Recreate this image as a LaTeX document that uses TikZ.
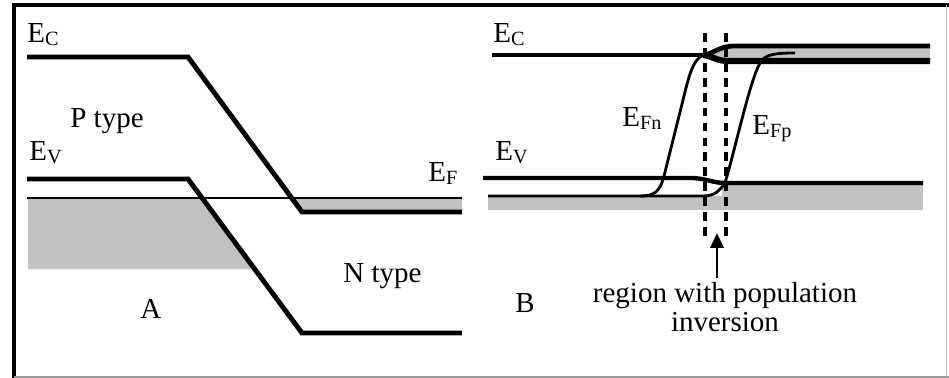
\documentclass[tikz,border=0pt]{standalone}
\usepackage{fontspec}
\setmainfont{Liberation Serif}
\usetikzlibrary{arrows.meta}
\definecolor{BandGray}{HTML}{C2C2C2}
\definecolor{FrameGray}{HTML}{9A9A9A}
\newcommand{\lvl}[1]{E\raisebox{-1.5pt}{\fontsize{11.5}{11.5}\selectfont #1}}

\begin{document}
\begin{tikzpicture}[x=0.02cm, y=-0.02cm,
    band/.style={line width=2.8pt},
    fermi/.style={line width=1.1pt},
    quasi/.style={line width=1.6pt},
    guide/.style={line width=1.8pt, dash pattern=on 5pt off 3.5pt},
    lbl/.style={anchor=base west, inner sep=0pt, font=\fontsize{16.5}{16.5}\selectfont}]
    \useasboundingbox (0,0) rectangle (949,378);
    % frame
    \draw[line width=1.8pt] (14,378) -- (14,5) -- (949,5);
    \draw[FrameGray, line width=0.6pt] (14,377) -- (949,377);
    \draw[FrameGray!60, line width=0.5pt] (946,5) -- (946,377);

    % A: junction at equilibrium
    \fill[BandGray] (28,198) -- (202,198) -- (255,269) -- (28,269) -- cycle;
    \fill[BandGray] (292,198) -- (462,198) -- (462,212) -- (302,212) -- cycle;
    \draw[fermi] (27,198) -- (462,198);
    \draw[band] (27,57) -- (188,57) -- (302,212) -- (462,212);
    \draw[band] (27,179) -- (188,179) -- (302,333) -- (462,333);

    % B: forward bias
    \fill[BandGray] (705,55) -- (733,47) -- (930,47) -- (930,60) -- (727,60) -- cycle;
    \fill[BandGray] (488,196) rectangle (923,210);
    \fill[BandGray] (722,184) rectangle (923,196);
    \draw[line width=2.1pt] (492,55) -- (703,55);
    \draw[line width=2.7pt] (703,55) .. controls (714,54) and (718,46) .. (735,46) -- (930,46);
    \draw[line width=3.5pt] (703,55) .. controls (713,56) and (716,61) .. (728,61) -- (930,61);
    \draw[line width=2.5pt] (483,178) -- (690,178) .. controls (706,178) and (712,183) .. (725,183) -- (923,183);
    \draw[quasi] (488,196) -- (703,196) .. controls (715,196) and (719,191) .. (725,183);
    \draw[quasi] (703,55) .. controls (692,60) and (688,80) .. (683,100) -- (664,176)
        .. controls (660,192) and (654,196) .. (640,196);
    \draw[quasi] (725,183) .. controls (735,150) and (750,80) .. (760,63)
        .. controls (765,55) and (772,53) .. (795,53);
    \draw[guide] (705,33) -- (705,240);
    \draw[guide] (726,33) -- (726,240);
    \coordinate (gap) at (717,233);

    % labels
    \foreach \p/\x in {A/27, B/493} {
      \node[lbl] (ec\p) at (\x,43) {\lvl{C}};
      \node[lbl] (ev\p) at (\x+2,161) {\lvl{V}};
    }
    \node[lbl] (efA) at (428,182) {\lvl{F}};
    \node[lbl] (ptype) at (70,128) {P type};
    \node[lbl] (ntype) at (343,282) {N type};
    \node[lbl] (capA) at (140,318) {A};
    \node[lbl] (efn) at (622,127) {\lvl{Fn}};
    \node[lbl] (efp) at (752,135) {\lvl{Fp}};
    \node[lbl] (capB) at (515,312) {B};
    \node[lbl, anchor=north, align=center] (reg) at (725,282) {region with population\\inversion};
    \draw[line width=1.6pt, -{Triangle[length=8.5pt,width=7.5pt]}] ([yshift=2pt]reg.north -| gap) -- (gap);
\end{tikzpicture}
\end{document}
